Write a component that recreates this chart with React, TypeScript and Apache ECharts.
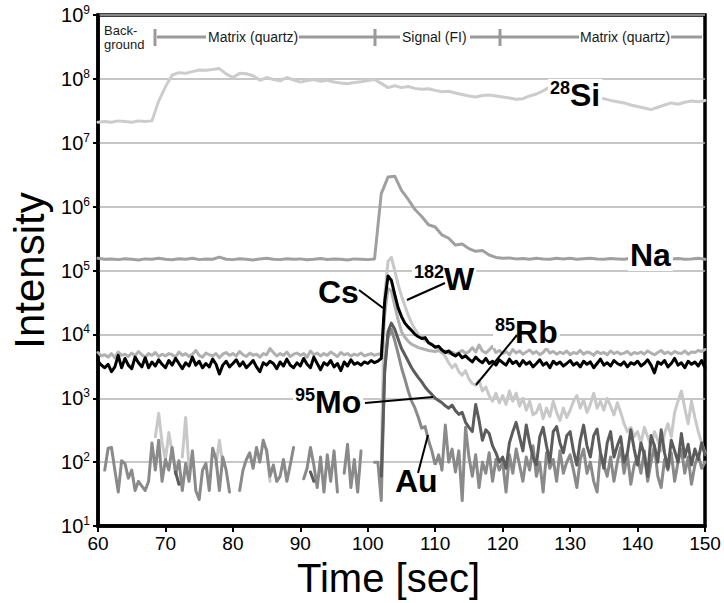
import { useEffect, useRef } from "react";
import * as echarts from "echarts";

const FONT = '"Liberation Sans", Arial, Helvetica, sans-serif';

// acquisition time grid
const T_START = 60; // s
const FINE_STEP = 0.5; // s, for the noisy trace channels
const COARSE_STEP = 1; // s, for the matrix channels (Si, Na)

const yTickExps = [1, 2, 3, 4, 5, 6, 7, 8, 9];
const xTicks = [60, 70, 80, 90, 100, 110, 120, 130, 140, 150];

// 28Si (1 s steps, 60..150)
const si28 = [
  2.1e7, 2.15e7, 2.1e7, 2.2e7, 2.15e7, 2.1e7, 2.2e7, 2.15e7, 2.2e7, 4.5e7,
  7.5e7, 1.15e8, 1.25e8, 1.22e8, 1.3e8, 1.38e8, 1.36e8, 1.4e8, 1.45e8, 1.2e8,
  1.05e8, 1.22e8, 1.2e8, 1.12e8, 9.5e7, 1.05e8, 9.8e7, 9.3e7, 1.05e8, 9.6e7,
  8.9e7, 9.4e7, 9.8e7, 9.2e7, 9.5e7, 8.9e7, 8.6e7, 8.4e7, 8.8e7, 9e7,
  9.4e7, 9.8e7, 8.5e7, 7.3e7, 7.8e7, 7.3e7, 7.6e7, 7.1e7, 6.9e7, 7e7,
  6.6e7, 6.3e7, 6.4e7, 6e7, 5.7e7, 5.4e7, 5.2e7, 5.5e7, 5.6e7, 5.4e7,
  5.2e7, 5e7, 4.8e7, 4.9e7, 5.4e7, 5.8e7, 6.5e7, 7.5e7, 7.8e7, 7e7,
  6.2e7, 5.8e7, 5.5e7, 5.3e7, 5.1e7, 4.9e7, 4.6e7, 4.4e7, 4.2e7, 3.9e7,
  3.7e7, 3.5e7, 3.3e7, 3.6e7, 3.9e7, 4.2e7, 4.0e7, 4.3e7, 4.5e7, 4.4e7, 4.6e7,
];

// Na (1 s steps, 60..150)
const na = [
  1.55e5, 1.5e5, 1.52e5, 1.48e5, 1.53e5, 1.5e5, 1.46e5, 1.52e5, 1.5e5, 1.55e5,
  1.5e5, 1.47e5, 1.53e5, 1.5e5, 1.55e5, 1.48e5, 1.52e5, 1.5e5, 1.62e5, 1.5e5,
  1.48e5, 1.53e5, 1.5e5, 1.46e5, 1.52e5, 1.55e5, 1.5e5, 1.48e5, 1.53e5, 1.5e5,
  1.52e5, 1.47e5, 1.5e5, 1.54e5, 1.49e5, 1.52e5, 1.5e5, 1.46e5, 1.52e5, 1.5e5,
  1.48e5, 1.52e5, 1.6e6, 2.9e6, 3.0e6, 1.8e6, 1.3e6, 9e5, 7e5, 5.2e5,
  4.8e5, 3.6e5, 3.2e5, 2.5e5, 2.6e5, 2.2e5, 2.0e5, 2.05e5, 1.75e5, 1.6e5,
  1.55e5, 1.57e5, 1.52e5, 1.54e5, 1.5e5, 1.55e5, 1.52e5, 1.5e5, 1.56e5, 1.52e5,
  1.55e5, 1.5e5, 1.53e5, 1.55e5, 1.52e5, 1.5e5, 1.54e5, 1.52e5, 1.5e5, 1.55e5,
  1.52e5, 1.5e5, 1.53e5, 1.55e5, 1.5e5, 1.52e5, 1.54e5, 1.5e5, 1.52e5, 1.55e5, 1.5e5,
];

// Cs (0.5 s steps, 60..150)
const cs = [
  3800, 3300, 3000, 3400, 2600, 3100, 4700, 3000, 4200, 3300, 2900, 4400, 3600, 3100, 4300, 3000, 3700, 3200, 4000, 3400,
  3000, 3900, 3300, 4200, 3500, 2900, 3600, 3200, 4400, 3300, 3800, 3000, 3500, 3100, 4100, 3400, 2400, 3300, 3800, 3100,
  3500, 4000, 3200, 3700, 3000, 3400, 3900, 3100, 2600, 3600, 3300, 3800, 3500, 2900, 3700, 3200, 4100, 3300, 3000, 3600,
  3200, 4200, 3400, 3000, 4400, 3500, 2800, 3600, 3300, 3900, 3100, 3500, 2700, 3700, 3200, 4000, 3400, 3600, 3300, 3700,
  3500, 3900, 3600, 3800, 4200, 32000, 82000, 70000, 42000, 26000, 19000, 15000, 13000, 11500, 10000, 9200, 8600, 8900, 7400, 6900,
  6300, 6500, 5700, 5200, 5500, 4900, 4600, 5000, 4300, 4600, 4100, 3700, 4400, 3900, 3600, 4200, 3500, 3800, 3300, 4000,
  3600, 3300, 4100, 3500, 3800, 3200, 3900, 3400, 3700, 3100, 3500, 4000, 3300, 3600, 3000, 3800, 3400, 3700, 3200, 3500,
  3900, 3300, 3600, 3100, 3800, 3400, 3700, 3000, 3500, 4100, 3300, 3600, 3200, 3900, 3500, 3300, 3700, 3100, 3600, 3400,
  3800, 3200, 3500, 4000, 3300, 2500, 3700, 3400, 3900, 3100, 3500, 4200, 3300, 3600, 3000, 3800, 3400, 3700, 3200, 3900,
  3000,
];

// 182W (0.5 s steps)
const w182 = [
  5200, 4600, 4800, 4400, 5000, 4300, 5300, 4700, 4900, 4500, 5100, 4600, 5400, 4800, 4400, 5000, 4700, 5200, 4500, 4900,
  4600, 5000, 4800, 4400, 5300, 4700, 5000, 4500, 4900, 5600, 4700, 4400, 5100, 4800, 4600, 5000, 4300, 4900, 5200, 4700,
  5000, 4600, 5400, 4800, 4500, 5100, 4700, 4900, 4400, 5000, 4800, 6000, 5200, 4600, 5000, 4700, 5300, 4500, 4900, 5100,
  4700, 5000, 4400, 5500, 4800, 5100, 4600, 5000, 4700, 5300, 4900, 4500, 5200, 4800, 5000, 4600, 4900, 4700, 5100, 4600,
  4800, 5000, 4700, 4900, 5000, 20000, 52000, 48000, 28000, 17000, 11000, 9000, 7800, 7000, 6600, 6200, 6000, 5800, 5600, 5500,
  5400, 5600, 5200, 5500, 5000, 5300, 4900, 5200, 5600, 5000, 5400, 6200, 5300, 6800, 5500, 5100, 5700, 6500, 5200, 5600,
  5000, 5400, 4800, 5800, 5100, 5500, 4900, 5300, 5700, 5000, 5400, 4800, 5200, 6000, 5100, 5400, 4900, 5300, 5000, 5500,
  4800, 5200, 5000, 5600, 4900, 5300, 5100, 4700, 5400, 5000, 5200, 4800, 5500, 5000, 5300, 4900, 5100, 5400, 4800, 5200,
  5000, 5300, 4900, 5500, 5100, 4800, 5200, 5600, 5000, 5300, 4900, 5400, 5100, 5000, 5500, 4900, 5300, 5200, 5600, 5400, 5800,
];

const n = null;

// 85Rb (0.5 s steps, null = no counts)
const rb85 = [
  n, n, n, n, n, n, n, n, n, n, n, n, n, n, n, n, n, 250, 580, 200,
  110, 290, 140, 80, n, 120, 500, 80, n, n, n, n, n, n, n, 90, 220, 90, n, n,
  n, n, n, n, n, n, n, n, n, n, 160, 50, n, n, n, n, n, n, n, n,
  n, n, n, n, n, n, n, n, n, n, n, n, n, n, n, n, n, n, n, n,
  n, n, n, n, 100, 40000, 140000, 160000, 100000, 60000, 40000, 28000, 20000, 15000, 12000, 10000, 9000, 8000, 7500, 7000,
  6500, 6000, 5200, 4500, 3600, 3000, 3400, 2600, 2300, 2700, 2000, 1700, 1600, 1900, 1300, 1500, 1100, 900, 1200, 850,
  1100, 800, 1300, 900, 1200, 750, 1000, 650, 900, 550, 600, 800, 480, 700, 520, 900, 600, 450, 700, 500,
  650, 900, 1100, 700, 950, 600, 800, 1200, 700, 900, 650, 1000, 750, 550, 850, 600, 400, 300, 350, 250,
  300, 200, 350, 250, 180, 300, 220, 150, 280, 400, 250, 600, 900, 1300, 700, 400, 900, 500, 300, 200, 140,
];

// 95Mo (0.5 s steps)
const mo95 = [
  n, n, n, n, n, n, n, n, n, n, n, n, n, n, n, n, n, n, n, n,
  n, n, n, 70, 45, n, n, n, n, n, n, n, n, n, n, n, n, n, n, n,
  n, n, n, n, n, n, n, n, n, n, n, n, n, n, n, n, n, n, n, n,
  n, n, n, 70, 50, n, n, n, n, n, n, n, n, n, n, n, n, n, n, n,
  n, n, n, n, 60, 2500, 11000, 15000, 12000, 8500, 6000, 4800, 3800, 3000, 2500, 2100, 1800, 1500, 1300, 1150,
  1000, 920, 850, 760, 700, 780, 640, 560, 600, 420, 350, 300, 800, 450, 220, 320, 280, 180, 140, 100,
  120, 80, 200, 300, 420, 250, 150, 380, 200, 120, 90, 250, 350, 180, 100, 300, 360, 200, 140, 260,
  300, 150, 90, 220, 380, 180, 120, 260, 330, 140, 80, 200, 300, 120, 180, 250, 100, 140, 320, 160,
  90, 200, 130, 60, 260, 180, 100, 320, 140, 80, 220, 150, 100, 280, 120, 190, 90, 160, 110, 200, 130,
];

// Au (0.5 s steps)
const au = [
  n, n, 75, 165, 170, 75, 34, 105, 95, 56, 75, 36, 50, 42, 36, 50, 200, 75, 220, 50,
  110, 75, 170, 65, 105, 36, 95, 50, 150, 36, 26, 75, 95, 36, 165, 110, 36, 120, 75, 34,
  n, n, 36, 75, 110, 140, 80, 170, 100, 220, 150, 60, 90, 50, 60, 110, 50, 90, 170, n,
  n, 55, 80, 170, 90, 40, 120, 34, 130, 50, 150, 34, n, 67, 190, 40, 110, 34, 150, n,
  n, n, 100, 100, 25, 3000, 9000, 12000, 8000, 5000, 3000, 2000, 1300, 900, 700, 500, 340, 360, 220, 150,
  90, 130, 75, 380, 100, 160, 70, 150, 25, 350, 120, 60, 130, 40, 100, 67, 140, 50, 110, 75,
  100, 34, 130, 67, 160, 90, 50, 120, 75, 180, 60, 100, 34, 140, 80, 110, 50, 150, 67, 100,
  130, 75, 40, 110, 160, 67, 100, 50, 34, 140, 90, 60, 120, 50, 100, 170, 67, 130, 45, 90,
  120, 67, 150, 50, 100, 180, 60, 40, 110, 75, 140, 50, 100, 160, 67, 120, 45, 90, 130, 80, 100,
];

const toPairs = (vals: (number | null)[], step: number) =>
  vals.map((v, i) => [T_START + i * step, v == null ? "-" : v]);

const line = (name: string, vals: (number | null)[], step: number, color: string, width: number, z: number) => ({
  type: "line",
  name,
  data: toPairs(vals, step),
  showSymbol: false,
  symbol: "none",
  connectNulls: false,
  silent: true,
  z,
  lineStyle: { color, width, join: "round", cap: "round" },
  itemStyle: { color },
});

const big = { fontSize: 32, fontWeight: "bold", fontFamily: FONT, fill: "#000", color: "#000" };
const sup = { fontSize: 18, fontWeight: "bold", fontFamily: FONT, fill: "#000", color: "#000", verticalAlign: "top", lineHeight: 26 };

const label = (text: string, x: number, y: number) => ({
  type: "text",
  x,
  y,
  z: 100,
  silent: true,
  style: {
    text,
    rich: { b: big, s: sup },
    align: "left",
    textAlign: "left",
    verticalAlign: "middle",
    textVerticalAlign: "middle",
    backgroundColor: "#fff",
    padding: [0, 2, 0, 2],
  },
});

const leader = (x1: number, y1: number, x2: number, y2: number) => ({
  type: "line",
  z: 100,
  silent: true,
  shape: { x1, y1, x2, y2 },
  style: { stroke: "#000", lineWidth: 2 },
});

const BAR = "#9a9a9a";
const barSeg = (x1: number, x2: number) => ({
  type: "line",
  z: 100,
  silent: true,
  shape: { x1, y1: 37, x2, y2: 37 },
  style: { stroke: BAR, lineWidth: 3 },
});
const barTick = (x: number) => ({
  type: "line",
  z: 100,
  silent: true,
  shape: { x1: x, y1: 29, x2: x, y2: 46 },
  style: { stroke: BAR, lineWidth: 3 },
});
const barText = (text: string, x: number, size: number) => ({
  type: "text",
  x,
  y: 37,
  z: 100,
  silent: true,
  style: {
    text,
    fill: "#1a1a1a",
    fontSize: size,
    fontFamily: FONT,
    align: "left",
    textAlign: "left",
    verticalAlign: "middle",
    textVerticalAlign: "middle",
    lineHeight: 14,
  },
});

export default function App() {
  const ref = useRef<HTMLDivElement>(null);
  useEffect(() => {
    document.body.style.margin = "0";
    if (!ref.current) return;
    const chart = echarts.init(ref.current, undefined, { renderer: "svg" });
    const option: any = {
      animation: false,
      backgroundColor: "#fff",
      grid: { left: 97, right: 19, top: 15, bottom: 77, show: true, borderColor: "#000", borderWidth: 3.5, containLabel: false },
      xAxis: {
        type: "value",
        min: xTicks[0],
        max: xTicks[xTicks.length - 1],
        interval: 10,
        name: "Time [sec]",
        nameLocation: "middle",
        nameGap: 26,
        nameTextStyle: { fontSize: 40, color: "#000", fontFamily: FONT, padding: [0, 26, 0, 0] },
        axisLine: { show: true, onZero: false, lineStyle: { color: "#000", width: 3.5 } },
        axisTick: { show: true, length: 6, lineStyle: { color: "#000", width: 2 } },
        axisLabel: { fontSize: 19, color: "#000", fontFamily: FONT, margin: 8 },
        splitLine: { show: false },
      },
      yAxis: {
        type: "log",
        logBase: 10,
        min: Math.pow(10, yTickExps[0]),
        max: Math.pow(10, yTickExps[yTickExps.length - 1]),
        splitNumber: 8,
        name: "Intensity",
        nameLocation: "middle",
        nameRotate: 90,
        nameGap: 48,
        nameTextStyle: { fontSize: 42, color: "#000", fontFamily: FONT },
        axisLine: { show: true, lineStyle: { color: "#000", width: 3.5 } },
        axisTick: { show: true, length: 5, lineStyle: { color: "#000", width: 2 } },
        minorTick: { show: false },
        axisLabel: {
          margin: 8,
          color: "#000",
          fontFamily: FONT,
          formatter: (v: number) => `{b|10}{s|${Math.round(Math.log10(v))}}`,
          rich: {
            b: { fontSize: 20, lineHeight: 22, color: "#000", fontFamily: FONT },
            s: { fontSize: 12, lineHeight: 12, verticalAlign: "top", color: "#000", fontFamily: FONT },
          },
        },
        splitLine: { show: true, lineStyle: { color: "#b4b4b4", width: 1.5 } },
      },
      series: [
        line("28Si", si28, COARSE_STEP, "#cccccc", 3, 2),
        line("Na", na, COARSE_STEP, "#a0a0a0", 3, 3),
        line("85Rb", rb85, FINE_STEP, "#c8c8c8", 3, 4),
        line("182W", w182, FINE_STEP, "#b0b0b0", 3, 5),
        line("Au", au, FINE_STEP, "#8a8a8a", 3, 6),
        line("95Mo", mo95, FINE_STEP, "#5c5c5c", 3, 7),
        line("Cs", cs, FINE_STEP, "#000000", 3, 8),
      ],
      graphic: {
        elements: [
          barText("Back-\nground", 104, 13),
          barTick(155),
          barSeg(157, 206),
          barText("Matrix (quartz)", 208, 14),
          barSeg(299, 400),
          barTick(375),
          barText("Signal (FI)", 402, 14),
          barSeg(470, 579),
          barTick(500),
          barText("Matrix (quartz)", 580, 14),
          barSeg(671, 702),
          label("{s|28}{b|Si}", 548, 95),
          label("{b|Na}", 628, 255),
          label("{b|Cs}", 316, 292),
          label("{s|182}{b|W}", 412, 279),
          label("{s|85}{b|Rb}", 493, 332),
          label("{s|95}{b|Mo}", 293, 402),
          label("{b|Au}", 393, 481),
          leader(359, 290, 383, 308),
          leader(445, 283, 407, 300),
          leader(517, 335, 476, 385),
          leader(365, 403, 433, 397),
          leader(418, 473, 428, 435),
        ],
      },
    };
    chart.setOption(option);
    return () => chart.dispose();
  }, []);
  return <div ref={ref} style={{ position: "fixed", left: 0, top: 0, width: 724, height: 603 }} />;
}
